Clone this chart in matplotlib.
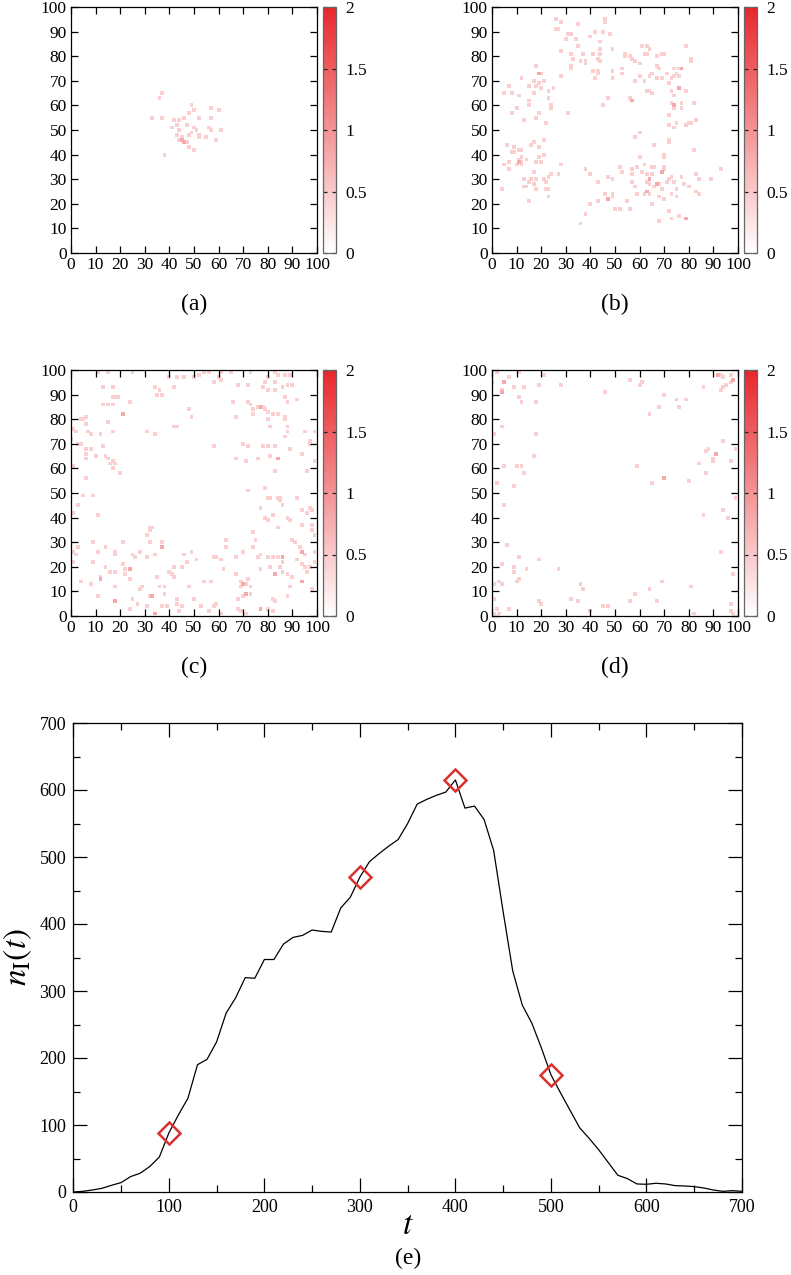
import numpy as np
import matplotlib
matplotlib.use("Agg")
import matplotlib.pyplot as plt
from matplotlib.colors import LinearSegmentedColormap

plt.rcParams["font.family"] = ["Liberation Serif", "DejaVu Serif"]
plt.rcParams["mathtext.fontset"] = "stix"

# occupied cells (x, y) of the 100x100 lattice
cells_a = [(37, 65), (36, 63), (33, 55), (37, 55), (38, 40), (42, 54), (44, 54), (46, 55),
           (43, 52), (41, 51), (44, 50), (47, 52), (49, 60), (50, 58), (48, 57), (52, 55),
           (57, 59), (57, 55), (60, 58), (56, 51), (57, 50), (61, 50), (50, 51), (51, 50),
           (48, 48), (45, 47), (52, 47), (55, 47), (44, 46), (59, 46), (48, 43), (50, 42),
           (47, 45), (43, 48), (52, 48), (49, 49)]
dark_a = [(45, 46), (46, 45)]

cells_b = [(26, 95), (28, 94), (26, 91), (27, 91), (35, 93), (31, 89), (32, 89), (30, 87),
           (34, 87), (35, 84), (28, 82), (32, 81), (33, 79), (32, 76), (32, 75), (37, 81),
           (36, 78), (38, 77), (38, 78), (28, 72), (31, 57), (40, 88), (42, 90), (45, 90),
           (48, 89), (46, 95), (46, 94), (44, 86), (44, 83), (41, 81), (44, 81), (43, 79),
           (44, 78), (49, 83), (41, 74), (42, 71), (43, 74), (43, 73), (49, 74), (49, 71),
           (47, 63), (45, 60), (54, 81), (54, 80), (56, 80), (57, 79), (58, 78), (60, 77),
           (61, 84), (63, 84), (64, 83), (62, 81), (63, 81), (67, 80), (69, 81), (70, 81),
           (53, 75), (53, 73), (60, 72), (62, 70), (64, 72), (65, 73), (67, 76), (68, 75),
           (69, 71), (67, 71), (71, 73), (58, 70), (63, 66), (64, 66), (65, 65), (56, 63),
           (74, 75), (76, 75), (75, 73), (74, 72), (73, 71), (76, 72), (79, 84), (81, 79),
           (81, 78), (79, 66), (74, 64), (73, 61), (74, 59), (77, 61), (77, 59), (82, 61),
           (73, 66), (72, 69), (72, 56), (75, 53), (74, 51), (72, 52), (80, 53), (81, 53),
           (79, 52), (83, 54),
           (5, 65), (7, 68), (8, 65), (11, 64), (12, 71), (10, 59), (8, 57), (13, 54),
           (15, 60), (15, 62), (15, 68), (17, 70), (18, 76), (17, 65), (18, 68), (20, 73),
           (19, 69), (21, 70), (20, 67), (18, 55), (19, 57), (23, 66), (24, 60), (24, 59),
           (25, 67), (23, 63), (22, 53),
           (6, 44), (9, 43), (8, 41), (9, 41), (11, 42), (12, 42), (12, 39), (11, 38),
           (12, 37), (12, 36), (10, 36), (5, 36), (7, 37), (7, 34), (4, 26), (14, 38),
           (16, 44), (17, 45), (19, 43), (21, 46), (21, 40), (19, 39), (20, 37), (18, 37),
           (17, 33), (16, 30), (18, 30), (15, 29), (13, 30), (13, 27), (14, 27), (17, 28),
           (18, 26), (15, 21), (21, 30), (22, 29), (23, 31), (24, 32), (22, 26), (23, 26),
           (23, 23), (27, 32), (28, 36),
           (38, 34), (40, 32), (43, 29), (47, 31), (49, 30), (46, 24), (49, 24), (49, 23),
           (43, 21), (40, 20), (50, 18), (52, 18), (55, 21), (56, 18), (38, 16), (36, 12),
           (52, 35), (53, 33), (57, 34), (57, 32), (57, 29), (58, 27), (59, 24), (60, 39),
           (60, 49), (58, 47), (66, 44),
           (59, 35), (61, 33), (62, 36), (63, 32), (63, 29), (64, 28), (65, 35), (66, 35),
           (68, 28), (66, 27), (64, 24), (62, 24), (65, 20), (65, 32), (70, 34), (70, 35),
           (70, 39), (70, 40), (72, 45), (72, 46), (72, 30), (73, 31), (71, 29), (69, 26),
           (68, 23), (70, 22), (68, 13), (73, 24), (75, 23), (75, 26), (74, 29), (77, 31),
           (78, 28), (80, 27), (72, 17), (73, 14), (76, 15), (83, 32), (84, 30), (83, 25),
           (84, 24), (82, 42), (89, 30), (93, 34)]
dark_b = [(19, 73), (11, 37), (47, 22), (57, 62), (77, 75), (76, 67), (74, 60), (64, 30),
          (67, 28), (63, 25), (69, 33), (79, 14)]

cells_c = [(11, 99), (15, 99), (25, 99), (13, 93), (17, 93), (13, 86), (15, 86), (17, 89),
           (18, 89), (19, 89), (17, 86), (24, 87), (15, 79), (17, 75), (4, 80), (5, 80),
           (6, 81), (6, 78), (7, 75), (8, 74), (1, 76), (2, 75), (0, 72), (3, 70), (4, 70),
           (6, 68), (8, 68), (6, 66), (6, 64), (12, 74), (13, 69), (10, 65), (14, 65),
           (15, 64), (16, 62), (17, 63), (18, 62), (17, 60), (20, 58), (1, 61), (6, 56),
           (5, 49), (9, 49), (3, 45), (1, 42), (11, 41), (31, 75), (34, 74), (32, 36),
           (34, 93), (35, 90), (37, 90), (36, 92), (40, 97), (42, 93), (43, 97), (42, 77),
           (43, 77), (49, 81), (48, 84), (46, 97), (50, 97), (52, 98), (54, 99), (56, 99),
           (58, 95), (60, 97), (61, 96), (61, 99), (65, 99), (66, 87), (67, 81), (68, 94),
           (72, 94), (73, 99), (72, 87), (73, 86), (74, 84), (74, 82), (76, 85), (78, 85),
           (79, 84), (80, 83), (78, 93), (79, 95), (80, 97), (83, 99), (84, 98), (80, 92),
           (83, 92), (83, 95), (86, 93), (87, 89), (87, 98), (89, 98), (90, 94), (88, 94),
           (92, 88), (88, 87), (82, 82), (84, 82), (80, 80), (81, 77), (87, 81), (87, 80),
           (88, 77), (88, 75), (87, 73), (89, 68), (95, 75), (97, 71), (97, 70), (99, 75),
           (99, 63), (96, 59), (94, 66), (70, 70), (72, 69), (58, 69), (67, 64), (71, 63),
           (76, 64), (78, 69), (80, 69), (83, 69), (81, 65), (83, 59), (72, 51), (79, 52),
           (80, 48), (81, 48), (84, 48), (85, 48), (86, 45), (85, 47), (77, 44), (79, 40),
           (80, 39), (82, 41), (84, 36), (88, 40), (89, 39), (92, 48), (94, 43), (96, 42),
           (97, 44), (98, 43), (98, 37), (98, 35), (99, 33), (94, 37), (90, 31), (91, 30),
           (93, 28), (95, 25), (92, 23), (94, 21), (95, 20), (96, 18), (97, 20), (99, 22),
           (99, 26), (98, 11), (77, 25), (80, 24), (82, 24), (84, 24), (86, 22), (85, 20),
           (81, 20), (88, 17), (90, 16), (86, 18), (89, 12), (88, 8), (82, 7), (83, 6),
           (82, 2), (80, 3), (76, 24), (74, 28), (75, 31), (74, 34), (77, 19), (71, 13),
           (73, 12), (72, 15), (70, 8), (73, 9), (69, 14), (67, 17), (69, 12), (68, 7),
           (68, 3), (69, 2), (71, 1), (61, 1), (59, 5), (58, 4), (56, 2), (53, 4), (58, 24),
           (59, 24), (61, 23), (62, 19), (63, 28), (63, 31), (67, 24), (70, 26), (54, 14),
           (57, 14), (51, 23), (49, 26), (48, 12), (50, 7), (46, 25), (45, 20), (47, 22),
           (1, 26), (2, 25), (3, 28), (1, 22), (4, 14), (8, 13), (9, 22), (9, 30), (11, 26),
           (12, 16), (11, 8), (14, 28), (14, 20), (16, 18), (18, 18), (18, 25), (18, 26),
           (18, 12), (21, 21), (21, 30), (22, 19), (22, 17), (24, 15), (25, 25), (26, 24),
           (24, 3), (25, 7), (27, 5), (28, 11), (29, 12), (28, 26), (32, 30), (31, 24),
           (34, 25), (37, 30), (35, 16), (33, 36), (31, 33), (32, 35), (31, 4), (32, 8),
           (34, 1), (36, 12), (38, 12), (38, 9), (37, 4), (39, 4), (40, 18), (41, 17),
           (42, 16), (43, 7), (43, 5), (44, 2), (45, 4), (42, 20)]
dark_c = [(21, 82), (77, 85), (84, 64), (12, 15), (24, 19), (37, 28), (18, 6), (33, 8),
          (34, 1), (94, 26), (94, 14), (86, 24), (83, 17), (77, 3), (70, 13), (71, 9)]

cells_d = [(2, 99), (0, 95), (7, 97), (4, 92), (9, 93), (11, 99), (11, 89), (12, 87),
           (13, 93), (19, 94), (21, 98), (18, 87), (28, 94), (1, 74), (4, 77), (18, 74),
           (17, 65), (5, 61), (10, 61), (12, 61), (13, 58), (9, 53), (2, 54), (5, 45),
           (6, 29), (4, 21), (9, 20), (9, 18), (11, 24), (14, 19), (19, 23), (10, 14),
           (11, 15), (3, 14), (4, 13), (1, 13), (1, 7), (2, 3), (1, 1), (3, 1), (7, 3),
           (19, 6), (20, 5), (27, 19), (32, 7), (35, 6), (36, 13), (37, 11), (40, 2),
           (45, 4), (47, 4), (46, 91), (56, 6), (58, 9), (56, 96), (60, 94), (61, 95),
           (59, 61), (64, 11), (65, 54), (67, 6), (69, 14), (70, 90), (64, 82), (68, 85),
           (75, 88), (76, 85), (79, 88), (80, 55), (81, 12), (82, 1), (86, 93), (84, 62),
           (87, 58), (87, 67), (88, 68), (90, 64), (90, 63), (86, 41), (94, 71), (94, 43),
           (96, 40), (93, 26), (93, 98), (94, 97), (93, 92), (94, 93), (95, 94), (97, 95),
           (97, 98), (97, 63), (99, 68), (99, 48), (98, 17), (97, 5), (97, 2), (98, 1)]
dark_d = [(5, 95), (4, 91), (70, 56), (91, 66), (92, 98), (98, 96)]

LIGHT_VALUE = 0.45
DARK_VALUE = 0.8

# n_I(t) time series
t_vals = np.arange(0, 701, 10)
n_vals = [0, 1, 3, 5.5, 10, 14, 23, 28, 38, 52,
          88, 115, 140, 190, 198, 224, 267, 290, 320, 319,
          347, 347, 370, 380, 383, 391, 389, 388, 424, 440,
          470, 493, 505, 516, 526, 550, 579, 586, 592, 597,
          615, 573, 576, 556, 510, 418, 330, 279, 252, 215,
          175, 148, 122, 96, 80, 63, 44, 25, 20, 12,
          11.5, 13, 12, 9.5, 9, 8, 6, 3, 1, 2, 1]
snap_t = [100, 300, 400, 500]
snap_n = [88, 470, 615, 175]

panel_cells = [(cells_a, dark_a, "(a)"), (cells_b, dark_b, "(b)"),
               (cells_c, dark_c, "(c)"), (cells_d, dark_d, "(d)")]

W, H = 791, 1275
fig = plt.figure(figsize=(W / 100, H / 100), dpi=100)

cmap = LinearSegmentedColormap.from_list("wr", ["#ffffff", "#e8272c"])

# pixel boxes (left, top) of the heat maps
boxes = [(71, 7), (492, 7), (71, 370), (492, 370)]
side = 246

for (cells, dark, label), (px, py) in zip(panel_cells, boxes):
    xs = [c[0] for c in cells] + [c[0] for c in dark]
    ys = [c[1] for c in cells] + [c[1] for c in dark]
    vals = [LIGHT_VALUE] * len(cells) + [DARK_VALUE] * len(dark)

    ax = fig.add_axes([px / W, 1 - (py + side) / H, side / W, side / H])
    sc = ax.scatter(xs, ys, c=vals, cmap=cmap, vmin=0, vmax=2,
                    marker="s", s=7.5, linewidths=0)
    ax.set_xlim(0, 100)
    ax.set_ylim(0, 100)
    ax.set_xticks(range(0, 101, 10))
    ax.set_yticks(range(0, 101, 10))
    ax.tick_params(direction="in", top=True, right=True, length=5,
                   width=0.9, labelsize=12.5, pad=3)
    for sp in ax.spines.values():
        sp.set_linewidth(0.9)
    ax.text(0.5, -0.21, label, transform=ax.transAxes, ha="center",
            va="center", fontsize=17)

    cax = fig.add_axes([(px + side + 6) / W, 1 - (py + side) / H, 13 / W, side / H])
    cb = fig.colorbar(sc, cax=cax, ticks=[0, 0.5, 1, 1.5, 2])
    cb.ax.set_yticklabels(["0", "0.5", "1", "1.5", "2"])
    cb.outline.set_edgecolor("#666666")
    cb.outline.set_linewidth(0.9)
    cax.tick_params(direction="in", left=True, right=True, length=3,
                    width=0.9, labelsize=12.5, pad=7, color="#222222")

# time series panel
ax = fig.add_axes([73.3 / W, 1 - 1192 / H, (742 - 73.3) / W, (1192 - 723) / H])
ax.plot(t_vals, n_vals, color="black", linewidth=0.9)
ax.plot(snap_t, snap_n, linestyle="none", marker="D", markersize=11,
        markerfacecolor="none", markeredgecolor="#d8312f", markeredgewidth=1.8)
ax.set_xlim(0, 700)
ax.set_ylim(0, 700)
ax.set_xticks(range(0, 701, 100))
ax.set_yticks(range(0, 701, 100))
ax.set_xticks(range(50, 700, 100), minor=True)
ax.set_yticks(range(50, 700, 100), minor=True)
ax.tick_params(which="both", direction="in", top=True, right=True,
               labelsize=13, width=0.9)
ax.tick_params(which="major", length=10, pad=5)
ax.tick_params(which="minor", length=5)
for sp in ax.spines.values():
    sp.set_linewidth(0.9)
ax.set_xlabel(r"$t$", fontsize=24, labelpad=-4)
ax.set_ylabel(r"$n_{\mathrm{I}}(t)$", fontsize=24, labelpad=4)
ax.text(0.5, -0.142, "(e)", transform=ax.transAxes, ha="center",
        va="center", fontsize=17)

fig.savefig("out.png", dpi=100)
